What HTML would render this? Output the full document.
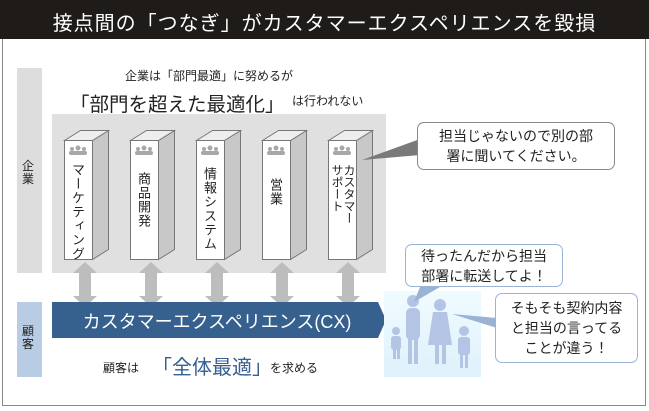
<!DOCTYPE html>
<html><head><meta charset="utf-8"><style>
body{margin:0;width:649px;height:411px;background:#fff;position:relative;overflow:hidden;font-family:"Liberation Sans","Noto Sans CJK JP",sans-serif;color:#222}
.a{position:absolute}
.vt{position:absolute;writing-mode:vertical-rl;font-size:13px;letter-spacing:1px;line-height:15px}
.bub{position:absolute;background:#fff;border-radius:7px;font-size:14px;line-height:20px;text-align:center}
</style></head><body>
<div class="a" style="left:0;top:0;width:649px;height:39px;background:#1e1b18"></div>
<div class="a" style="left:0;top:7px;width:649px;text-align:center;color:#fff;font-size:20px;letter-spacing:1px">接点間の「つなぎ」がカスタマーエクスペリエンスを毀損</div>
<div class="a" style="left:2px;top:39px;width:642px;height:366px;border:1px solid #888;border-top:none"></div>
<div class="a" style="left:17px;top:68px;width:25px;height:205px;background:#ddd"></div>
<div class="a" style="left:22px;top:160px;width:16px;font-size:12px;line-height:13px">企<br>業</div>
<div class="a" style="left:17px;top:302px;width:25px;height:75px;background:#b8cce4"></div>
<div class="a" style="left:22px;top:325px;font-size:12px;line-height:13px">顧<br>客</div>
<div class="a" style="left:52px;top:114px;width:334px;height:159px;background:#e0e0e0"></div>
<div class="a" style="left:125px;top:67px;font-size:12px">企業は「部門最適」に努めるが</div>
<div class="a" style="left:70px;top:88px;font-size:19.5px">「部門を超えた最適化」</div>
<div class="a" style="left:292px;top:92px;font-size:12px">は行われない</div>
<svg class="a" style="left:0;top:0" width="649" height="411">
<g fill="#bdbdbd">
<polygon points="85,262 97,273 91,273 91,296 97,296 85,307 73,296 79,296 79,273 73,273"/>
<polygon points="151,262 163,273 157,273 157,296 163,296 151,307 139,296 145,296 145,273 139,273"/>
<polygon points="217,262 229,273 223,273 223,296 229,296 217,307 205,296 211,296 211,273 205,273"/>
<polygon points="282,262 294,273 288,273 288,296 294,296 282,307 270,296 276,296 276,273 270,273"/>
<polygon points="348,262 360,273 354,273 354,296 360,296 348,307 336,296 342,296 342,273 336,273"/>
</g>
<g stroke="#777" stroke-width="1">
<g id="p"><polygon points="92.5,140.5 108.5,130.5 108.5,249.5 92.5,259.5" fill="#c8c8c8"/><polygon points="64.5,140.5 80.5,130.5 108.5,130.5 92.5,140.5" fill="#eee"/><rect x="64.5" y="140.5" width="28" height="119" fill="#fff"/></g>
<use href="#p" x="66"/><use href="#p" x="132"/><use href="#p" x="198"/><use href="#p" x="264"/>
</g>
<g fill="#a8a8a8">
<g id="ic"><circle cx="72" cy="149" r="2"/><circle cx="78" cy="148" r="2.5"/><circle cx="84" cy="149" r="2"/><rect x="69" y="151" width="18" height="4" rx="2"/></g>
<use href="#ic" x="66"/><use href="#ic" x="132"/><use href="#ic" x="198"/><use href="#ic" x="264"/>
</g>
<polygon points="52,302 378,302 386,320 378,338 52,338" fill="#36618f"/>
<defs><linearGradient id="g" x1="0" y1="0" x2="0" y2="1"><stop offset="0" stop-color="#f0fbff"/><stop offset="1" stop-color="#dff1fb"/></linearGradient></defs>
<rect x="384" y="291" width="97" height="86" fill="url(#g)"/>
<g fill="#b4c4e4">
<circle cx="413" cy="301" r="6"/><rect x="406" y="308" width="14" height="32" rx="5"/><rect x="408" y="338" width="4" height="26"/><rect x="414" y="338" width="4" height="26"/>
<circle cx="440" cy="305" r="6"/><polygon points="433,312 447,312 452,345 428,345"/><rect x="435" y="344" width="4" height="20"/><rect x="442" y="344" width="4" height="20"/>
<circle cx="396" cy="331" r="4"/><rect x="391" y="336" width="10" height="14" rx="3"/><rect x="393" y="349" width="3" height="10"/><rect x="397" y="349" width="3" height="10"/>
<circle cx="464" cy="331" r="5"/><rect x="458" y="337" width="12" height="18" rx="3"/><rect x="460" y="354" width="3" height="14"/><rect x="465" y="354" width="3" height="14"/>
</g>
<polygon points="362,160 420,139 420,155" fill="#7a7a7a"/>
<polygon points="420,287 440,287 414,302" fill="#9ab3d5"/>
<polygon points="452,314 497,318 497,328" fill="#9ab3d5"/>
</svg>
<div class="a" style="left:52px;top:308px;width:330px;text-align:center;color:#fff;font-size:18px">カスタマーエクスペリエンス(CX)</div>
<div class="a" style="left:103px;top:359px;font-size:12px">顧客は</div>
<div class="a" style="left:152px;top:351px;font-size:20px;color:#36618f">「全体最適」</div>
<div class="a" style="left:270px;top:359px;font-size:12px">を求める</div>

<div class="vt" style="left:70px;top:163px">マーケティング</div>
<div class="vt" style="left:136px;top:172px">商品開発</div>
<div class="vt" style="left:202px;top:167px">情報システム</div>
<div class="vt" style="left:268px;top:178px">営業</div>
<div class="vt" style="left:331px;top:164px;font-size:12px;line-height:12px;letter-spacing:0">カスタマー<br>サポート</div>

<div class="bub" style="left:417px;top:122px;width:196px;height:46px;border:1px solid #888"><div style="margin-top:3px">担当じゃないので別の部<br>署に聞いてください。</div></div>
<div class="bub" style="left:405px;top:244px;width:156px;height:41px;border:1px solid #9ab3d5"><div style="margin-top:1px">待ったんだから担当<br>部署に転送してよ！</div></div>
<div class="bub" style="left:495px;top:293px;width:141px;height:68px;border:1px solid #9ab3d5"><div style="margin-top:4px">そもそも契約内容<br>と担当の言ってる<br>ことが違う！</div></div>
</body></html>
